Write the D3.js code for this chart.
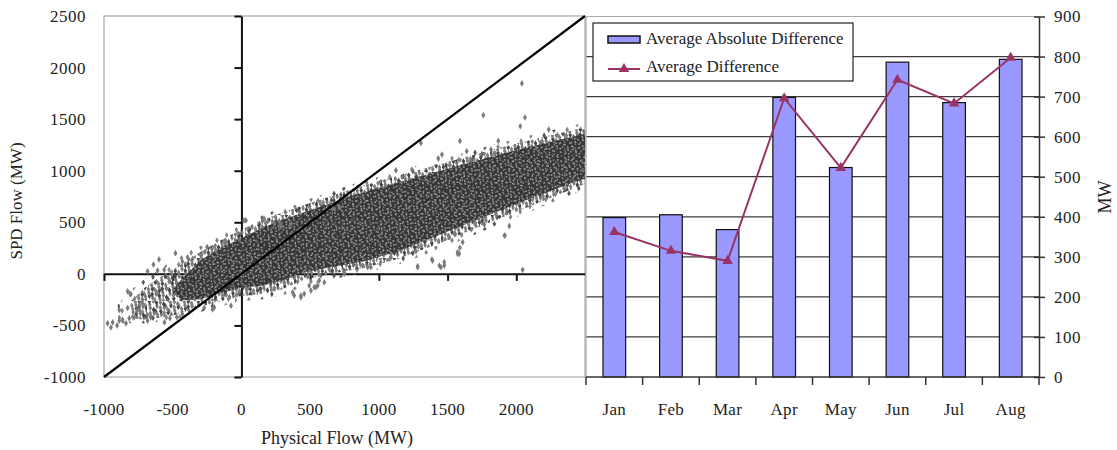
<!DOCTYPE html>
<html>
<head>
<meta charset="utf-8">
<script src="https://cdn.jsdelivr.net/npm/d3@7"></script>
<style>
  html, body { margin: 0; padding: 0; background: #fff; }
  svg { display: block; font-family: "Liberation Serif", "Times New Roman", serif; }
</style>
</head>
<body>
<svg id="chart" width="1117" height="450"></svg>
<script>
// ---------- Scatter: SPD flow against physical flow (MW) ----------
const flowTicks = [-1000, -500, 0, 500, 1000, 1500, 2000];
const spdTicks  = [-1000, -500, 0, 500, 1000, 1500, 2000, 2500];

// Envelope of the densely packed core of the point cloud [physical, spd]
const coreUpper = [[-500,-150],[-420,-30],[-300,130],[-150,255],[0,345],[150,445],
  [300,525],[450,595],[600,660],[800,755],[1000,835],[1300,945],[1600,1055],[1900,1165],
  [2200,1265],[2500,1355]];
const coreLower = [[-500,-190],[-420,-255],[-300,-245],[-150,-185],[0,-135],[150,-115],
  [300,-65],[450,15],[650,65],[900,125],[1150,225],[1450,385],[1750,545],[2050,705],
  [2350,855],[2500,925]];
// Envelope of the thinner fringe around the core
const fringeUpper = [[-800,-260],[-700,-130],[-600,-40],[-450,80],[-300,210],[-150,325],[0,430],
  [150,520],[300,595],[450,665],[600,730],[800,820],[1000,900],[1300,1010],[1600,1120],
  [1900,1230],[2200,1330],[2500,1420]];
const fringeLower = [[-800,-430],[-700,-445],[-500,-405],[-300,-320],[-150,-265],[0,-215],
  [150,-195],[300,-150],[450,-60],[650,0],[900,60],[1150,150],[1450,300],[1750,470],
  [2050,630],[2350,790],[2500,870]];
// Outer halo where points are scattered thinly
const haloUpper = [[-900,-300],[-750,-90],[-600,40],[-450,170],[-300,280],[-150,385],[0,480],
  [150,565],[300,640],[450,710],[600,775],[800,865],[1000,945],[1300,1055],[1600,1165],
  [1900,1275],[2200,1375],[2500,1465]];
const haloLower = [[-900,-480],[-700,-480],[-500,-450],[-300,-370],[-150,-315],[0,-265],
  [150,-245],[300,-210],[450,-120],[650,-55],[900,10],[1150,95],[1450,240],[1750,410],
  [2050,575],[2350,740],[2500,820]];
// Isolated points away from the cloud [physical, spd]
const loosePoints = [
  [-974,-480],[-937,-470],[-889,-454],[-865,-444],[-817,-431],[-780,-421],[-889,-350],[-828,-330],
  [-828,-169],[-811,-194],[-683,25],[-610,32],[-562,39],[-683,-454],[-659,-421],[-271,-330],
  [-210,-344],[-76,-308],[-392,161],[-355,146],[-295,178],[-198,-325],[-113,307],[-186,226],
  [18,518],[33,518],[154,525],[166,534],[191,511],[239,492],[275,511],[287,460],[360,486],
  [664,632],[712,647],[373,-179],[384,-211],[433,-227],[457,-194],[433,-211],[493,-114],
  [506,-162],[530,-130],[542,-130],[555,-114],[566,-65],[603,-82],[748,0],[748,16],[882,80],
  [918,64],[942,64],[1088,161],[1282,64],[1282,74],[1270,220],[1386,139],[1391,129],[1440,80],
  [1452,64],[1476,80],[1476,113],[1512,356],[1549,389],[1573,194],[1573,210],[1585,194],
  [1590,253],[1610,307],[1767,479],[1852,583],[1913,372],[1918,372],[1949,463],[2046,39],
  [1124,1004],[1241,1010],[1306,1269],[1432,1120],[1459,1156],[1590,1289],[1639,1189],
  [1760,1538],[1816,1205],[1869,1289],[2029,1431],[2063,1516],[2236,1399],[2041,1846],
  [-950,-520],[-905,-500],[-840,-480],[-760,-360],[-740,-300],[-720,-250],[-560,-470],
  [-520,-430],[-470,-420],[-430,-390],[-640,90],[-600,140],[-480,200],[-430,120],[-250,260]
];

// ---------- Monthly comparison (MW) ----------
const months     = ["Jan", "Feb", "Mar", "Apr", "May", "Jun", "Jul", "Aug"];
const avgAbsDiff = [398, 405, 368, 698, 523, 786, 685, 793];
const avgDiff    = [362, 315, 290, 696, 522, 742, 683, 797];
const mwTicks    = [0, 100, 200, 300, 400, 500, 600, 700, 800, 900];

const svg = d3.select("#chart");
const defs = svg.append("defs");

// Fill textures: marks spread evenly but irregularly over a tile (additive R2 sequence)
function spread(n, w, h, s = 0) {
  const a1 = 0.7548776662, a2 = 0.5698402910;
  return d3.range(n).map(i => [((s + a1 * (i + 1)) % 1) * w, ((s * 0.37 + a2 * (i + 1)) % 1) * h]);
}
const diamond = s => d3.symbol(d3.symbolDiamond, s)();
function texture(id, w, h, base) {
  const p = defs.append("pattern").attr("id", id)
    .attr("patternUnits", "userSpaceOnUse").attr("width", w).attr("height", h);
  if (base) p.append("rect").attr("width", w).attr("height", h).attr("fill", base);
  return p;
}

// dense core: overlapping markers with light gaps between them (two tiles of different size)
const coreA = texture("coreTexA", 53, 47, "#373737");
spread(150, 53, 47, 0.5).forEach(([x, y], i) => coreA.append("rect")
  .attr("x", x).attr("y", y).attr("width", 1.6).attr("height", 1.5)
  .attr("fill", i % 3 === 0 ? "#777" : "#a4a4a4"));
const coreB = texture("coreTexB", 37, 31);
spread(70, 37, 31, 0.21).forEach(([x, y], i) => coreB.append("rect")
  .attr("x", x).attr("y", y).attr("width", 1.5).attr("height", 1.6)
  .attr("fill", i % 2 ? "#9a9a9a" : "#888"));

// fringe: separate markers, partly overlapping
const fringe = texture("fringeTex", 49, 43);
spread(125, 49, 43, 0.5).forEach(([x, y], i) => fringe.append("path")
  .attr("d", diamond(11)).attr("transform", `translate(${x},${y})`)
  .attr("fill", i % 3 === 0 ? "#444" : "#7d7d7d"));

// halo: a few markers
const halo = texture("haloTex", 47, 41);
spread(24, 47, 41, 0.5).forEach(([x, y], i) => halo.append("path")
  .attr("d", diamond(11)).attr("transform", `translate(${x},${y})`)
  .attr("fill", i % 3 === 0 ? "#555" : "#858585"));

// ---------- Left panel ----------
const xS = d3.scaleLinear([-1000, 2500], [104, 585]);
const yS = d3.scaleLinear([-1000, 2500], [377, 16]);
const L = svg.append("g");

L.append("rect").attr("x", xS(-1000)).attr("y", yS(2500))
  .attr("width", xS(2500) - xS(-1000)).attr("height", yS(-1000) - yS(2500))
  .attr("fill", "none").attr("stroke", "#a8a8a8").attr("stroke-width", 1.2);

// axes crossing at the origin
const xAxis = L.append("g").attr("transform", `translate(0,${yS(0)})`)
  .call(d3.axisBottom(xS).tickValues(flowTicks).tickSize(7).tickFormat("").tickSizeOuter(0));
const yAxis = L.append("g").attr("transform", `translate(${xS(0)},0)`)
  .call(d3.axisLeft(yS).tickValues(spdTicks).tickSize(7).tickFormat("").tickSizeOuter(0));
[xAxis, yAxis].forEach(a => {
  a.selectAll("path,line").attr("stroke", "#111").attr("stroke-width", 2);
});

// tick labels sit at the edges of the plot
L.append("g").selectAll("text").data(flowTicks).join("text")
  .attr("x", d => xS(d)).attr("y", 415).attr("text-anchor", "middle")
  .attr("font-size", 17).attr("letter-spacing", 0.3).attr("fill", "#222").text(d => d);
L.append("g").selectAll("text").data(spdTicks).join("text")
  .attr("x", 86).attr("y", d => yS(d) + 6).attr("text-anchor", "end")
  .attr("font-size", 17).attr("letter-spacing", 0.5).attr("fill", "#222").text(d => d);

L.append("text").attr("x", 337).attr("y", 444).attr("text-anchor", "middle")
  .attr("font-size", 18).attr("fill", "#222").text("Physical Flow (MW)");
L.append("text").attr("transform", "translate(22,201) rotate(-90)").attr("text-anchor", "middle")
  .attr("font-size", 17).attr("fill", "#222").text("SPD Flow (MW)");

// point cloud
const toPx = d3.line().x(d => xS(d[0])).y(d => yS(d[1]));
const envelope = (up, lo) => toPx(up.concat(lo.slice().reverse())) + "Z";
L.append("path").attr("d", envelope(haloUpper, haloLower)).attr("fill", "url(#haloTex)");
L.append("path").attr("d", envelope(fringeUpper, fringeLower)).attr("fill", "url(#fringeTex)");
L.append("path").attr("d", envelope(coreUpper, coreLower)).attr("fill", "url(#coreTexA)");
L.append("path").attr("d", envelope(coreUpper, coreLower)).attr("fill", "url(#coreTexB)");
L.append("g").selectAll("path").data(loosePoints).join("path")
  .attr("d", diamond(13))
  .attr("transform", d => `translate(${xS(d[0])},${yS(d[1])})`)
  .attr("fill", "#7a7a7a");

// one-to-one reference line
L.append("line").attr("x1", xS(-1000)).attr("y1", yS(-1000)).attr("x2", xS(2500)).attr("y2", yS(2500))
  .attr("stroke", "#000").attr("stroke-width", 2.2);

// ---------- Right panel ----------
const xB = d3.scaleBand(months, [586, 1039]).paddingInner(0.6).paddingOuter(0.3);
const yB = d3.scaleLinear([0, 900], [377, 16.5]);
const R = svg.append("g");

// gridlines
R.append("g").selectAll("line").data(mwTicks.filter(v => v > 0 && v < 900)).join("line")
  .attr("x1", 586).attr("x2", 1039).attr("y1", d => yB(d)).attr("y2", d => yB(d))
  .attr("stroke", "#3c3c3c").attr("stroke-width", 1.3);
// plot border (top and left)
R.append("path").attr("d", `M586,${yB(0)}V${yB(900)}H1039`)
  .attr("fill", "none").attr("stroke", "#a8a8a8").attr("stroke-width", 1.2);

// bars
R.append("g").selectAll("rect").data(months).join("rect")
  .attr("x", d => xB(d)).attr("width", xB.bandwidth())
  .attr("y", (d, i) => yB(avgAbsDiff[i])).attr("height", (d, i) => yB(0) - yB(avgAbsDiff[i]))
  .attr("fill", "#9999ff").attr("stroke", "#111").attr("stroke-width", 1.2);

// category axis
const gap = (xB.step() - xB.bandwidth()) / 2;
const bounds = months.map(m => xB(m) - gap).concat([1039]);
const cat = R.append("g");
cat.append("line").attr("x1", 586).attr("x2", 1039).attr("y1", yB(0)).attr("y2", yB(0))
  .attr("stroke", "#333").attr("stroke-width", 1.5);
cat.selectAll("line.tk").data(bounds).join("line").attr("class", "tk")
  .attr("x1", d => d).attr("x2", d => d).attr("y1", yB(0)).attr("y2", yB(0) + 8)
  .attr("stroke", "#333").attr("stroke-width", 1.5);
cat.selectAll("text").data(months).join("text")
  .attr("x", d => xB(d) + xB.bandwidth() / 2).attr("y", 415).attr("text-anchor", "middle")
  .attr("font-size", 17).attr("letter-spacing", 0.3).attr("fill", "#222").text(d => d);

// value axis on the right
const vAxis = R.append("g").attr("transform", "translate(1039,0)")
  .call(d3.axisRight(yB).tickValues(mwTicks).tickSize(6).tickPadding(9).tickSizeOuter(0));
vAxis.selectAll("path,line").attr("stroke", "#333").attr("stroke-width", 1.5);
vAxis.selectAll("text").attr("font-size", 17).attr("fill", "#222").attr("letter-spacing", 0.5)
  .attr("font-family", "Liberation Serif, Times New Roman, serif");
vAxis.selectAll(".tick").append("line").attr("x1", -5).attr("x2", 0)
  .attr("stroke", "#333").attr("stroke-width", 1.5);
R.append("text").attr("transform", "translate(1111,197) rotate(-90)").attr("text-anchor", "middle")
  .attr("font-size", 18).attr("fill", "#222").text("MW");

// average difference line with triangle markers
const cx = m => xB(m) + xB.bandwidth() / 2;
R.append("path").datum(months)
  .attr("d", d3.line().x(cx).y((d, i) => yB(avgDiff[i])))
  .attr("fill", "none").attr("stroke", "#993366").attr("stroke-width", 2);
R.append("g").selectAll("path").data(months).join("path")
  .attr("d", d3.symbol(d3.symbolTriangle, 48)())
  .attr("transform", (d, i) => `translate(${cx(d)},${yB(avgDiff[i])})`)
  .attr("fill", "#993366");

// legend
const lg = R.append("g");
lg.append("rect").attr("x", 593).attr("y", 23).attr("width", 260).attr("height", 58)
  .attr("fill", "#fff").attr("stroke", "#222").attr("stroke-width", 1.2);
lg.append("rect").attr("x", 608).attr("y", 36).attr("width", 32).attr("height", 7)
  .attr("fill", "#9999ff").attr("stroke", "#111").attr("stroke-width", 1.5);
lg.append("text").attr("x", 646).attr("y", 44).attr("font-size", 17).attr("fill", "#222")
  .text("Average Absolute Difference");
lg.append("line").attr("x1", 608).attr("x2", 640).attr("y1", 69).attr("y2", 69)
  .attr("stroke", "#993366").attr("stroke-width", 2);
lg.append("path").attr("d", d3.symbol(d3.symbolTriangle, 48)())
  .attr("transform", "translate(624,69)").attr("fill", "#993366");
lg.append("text").attr("x", 646).attr("y", 72).attr("font-size", 17).attr("fill", "#222")
  .text("Average Difference");
</script>
</body>
</html>
